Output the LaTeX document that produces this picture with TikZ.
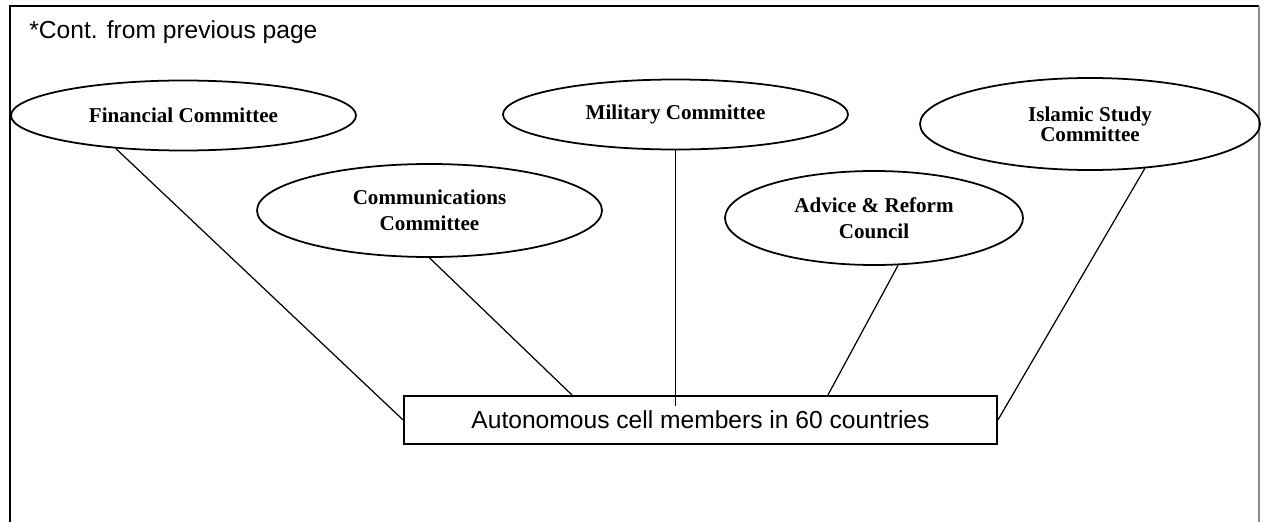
\documentclass[tikz,border=0pt]{standalone}
\usepackage{fontspec}
\setmainfont{Liberation Serif}
\newfontfamily\cellfont{Liberation Sans}
\usetikzlibrary{shapes.geometric}

\begin{document}
\begin{tikzpicture}[
    committee/.style={
        draw,
        ellipse,
        line width=1pt,
        align=center,
        inner sep=0pt,
        minimum width=6.9cm,
        minimum height=1.4cm,
        font=\fontsize{12}{15}\selectfont\bfseries
    },
    cellbox/.style={
        draw,
        line width=1pt,
        align=center,
        minimum width=11.86cm,
        minimum height=0.96cm,
        font=\fontsize{14}{16}\selectfont\cellfont
    },
    link/.style={
        line width=0.7pt,
        draw=black
    },
    frame/.style={
        line width=0.8pt,
        draw=black
    }
]

\useasboundingbox (0,0) rectangle (25.32,10.44);

% page frame, open at the bottom
\draw[frame] (0.2,0) -- (0.2,10.32) -- (25.18,10.32);
\draw[frame, draw=black!45] (25.18,10.32) -- (25.18,0);

\node[anchor=west, inner sep=0pt, font=\fontsize{14}{16}\selectfont\cellfont] (cont) at (0.58,9.8) {*Cont. from previous page};

% =========================
% committees
% =========================
\node[committee] (fin) at (3.67,8.13) {Financial Committee};
\node[committee, minimum height=1.86cm] (comm) at (8.59,6.23) {Communications\\Committee};
\node[committee] (mil) at (13.51,8.15) {Military Committee};
\node[committee, minimum width=5.96cm, minimum height=1.88cm] (adv) at (17.48,6.08) {Advice \& Reform\\Council};
\node[committee, minimum width=6.8cm, minimum height=1.84cm,
      font=\fontsize{12}{11.5}\selectfont\bfseries] (isl) at (21.8,7.96) {Islamic Study\\Committee};

% =========================
% cells
% =========================
\node[cellbox] (cell) at (14.01,2.04) {Autonomous cell members in 60 countries};

\draw[link] (fin.206) -- (cell.west);
\draw[link] (comm.south) -- ([xshift=3.38cm]cell.north west);
\draw[link] (mil.south) -- (mil.south |- cell.north) -- ++(0,-0.22);
\draw[link] (adv.297) -- ([xshift=-3.4cm]cell.north east);
\draw[link] (isl.321) -- (cell.east);

\end{tikzpicture}
\end{document}
